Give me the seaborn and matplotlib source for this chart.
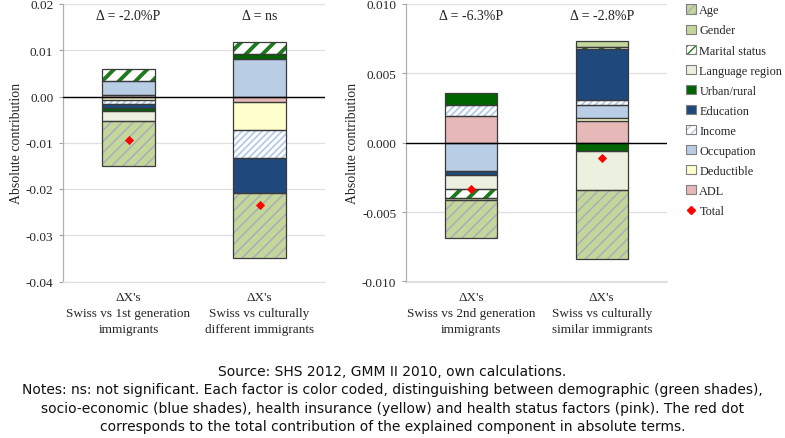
import numpy as np
import pandas as pd
import matplotlib
matplotlib.use("Agg")
import matplotlib.pyplot as plt
from matplotlib.patches import Patch
from matplotlib.lines import Line2D
from matplotlib.ticker import FormatStrFormatter, MultipleLocator
import seaborn as sns

# ---------------- data ----------------
series_names = ["ADL", "Deductible", "Occupation", "Income", "Education",
                "Urban/rural", "Language region", "Marital status", "Gender", "Age"]

left_categories = ["\u0394X's\nSwiss vs 1st generation\nimmigrants",
                   "\u0394X's\nSwiss vs culturally\ndifferent immigrants"]
right_categories = ["\u0394X's\nSwiss vs 2nd generation\nimmigrants",
                    "\u0394X's\nSwiss vs culturally\nsimilar immigrants"]

left_adl = [0.0003, -0.0012]
left_deductible = [-0.0007, -0.0060]
left_occupation = [0.0030, 0.0082]
left_income = [-0.0010, -0.0060]
left_education = [-0.0007, -0.0076]
left_urban = [-0.0008, 0.0009]
left_language = [-0.0022, 0.0]
left_marital = [0.0027, 0.0026]
left_gender = [0.0, 0.0]
left_age = [-0.0097, -0.0142]
left_total = [-0.0093, -0.0235]
left_delta = ["\u0394 = -2.0%P", "\u0394 = ns"]

right_adl = [0.0019, 0.0016]
right_deductible = [0.0, 0.00015]
right_occupation = [-0.0020, 0.0010]
right_income = [0.0008, 0.0003]
right_education = [-0.0003, 0.0037]
right_urban = [0.0009, -0.0006]
right_language = [-0.0010, -0.0028]
right_marital = [-0.0007, 0.00015]
right_gender = [-0.0001, 0.0004]
right_age = [-0.0028, -0.0050]
right_total = [-0.0033, -0.0011]
right_delta = ["\u0394 = -6.3%P", "\u0394 = -2.8%P"]

left_values = [left_adl, left_deductible, left_occupation, left_income, left_education,
               left_urban, left_language, left_marital, left_gender, left_age]
right_values = [right_adl, right_deductible, right_occupation, right_income, right_education,
                right_urban, right_language, right_marital, right_gender, right_age]

legend_order = ["Age", "Gender", "Marital status", "Language region", "Urban/rural",
                "Education", "Income", "Occupation", "Deductible", "ADL"]

# ---------------- styles ----------------
styles = {
    "ADL":             dict(face="#e6b9b8", hatch=None, hcolor=None, hlw=1.0),
    "Deductible":      dict(face="#ffffcc", hatch=None, hcolor=None, hlw=1.0),
    "Occupation":      dict(face="#b9cde5", hatch=None, hcolor=None, hlw=1.0),
    "Income":          dict(face="#ffffff", hatch="/////", hcolor="#b4cbe8", hlw=1.3),
    "Education":       dict(face="#1f497d", hatch=None, hcolor=None, hlw=1.0),
    "Urban/rural":     dict(face="#006400", hatch=None, hcolor=None, hlw=1.0),
    "Language region": dict(face="#ebf1de", hatch=None, hcolor=None, hlw=1.0),
    "Marital status":  dict(face="#ffffff", hatch="//", hcolor="#1e7a1e", hlw=2.8),
    "Gender":          dict(face="#c4d79b", hatch=None, hcolor=None, hlw=1.0),
    "Age":             dict(face="#c4d79b", hatch="///", hcolor="#acacb8", hlw=1.1),
}
legend_hatch = {"Marital status": "////", "Income": "////", "Age": "////"}
EDGE = "#3a3a3a"

sns.set_theme(style="white")
plt.rcParams["font.family"] = ["Liberation Serif", "DejaVu Serif"]
plt.rcParams["axes.unicode_minus"] = False
plt.rcParams["hatch.linewidth"] = 1.0

fig = plt.figure(figsize=(7.85, 4.39), dpi=100)
axL = fig.add_axes([63 / 785, 1 - 282.5 / 439, 262 / 785, 277.5 / 439])
axR = fig.add_axes([406 / 785, 1 - 282.5 / 439, 261 / 785, 277.5 / 439])

BAR_W = 0.4


def draw_panel(ax, categories, values, totals, deltas, ylim, step, fmt):
    x = np.arange(len(categories))
    vals = np.array(values, dtype=float)
    pos_base = np.zeros(len(categories))
    neg_base = np.zeros(len(categories))
    for name, v in zip(series_names, vals):
        bottom = np.where(v >= 0, pos_base, neg_base)
        st = styles[name]
        mask = v != 0
        if mask.any():
            bars = ax.bar(x[mask], v[mask], width=BAR_W, bottom=bottom[mask],
                          color=st["face"], edgecolor=st["hcolor"] if st["hatch"] else st["face"],
                          hatch=st["hatch"], linewidth=0, zorder=3)
            for b in bars:
                if hasattr(b, "set_hatch_linewidth"):
                    b.set_hatch_linewidth(st["hlw"])
            ax.bar(x[mask], v[mask], width=BAR_W, bottom=bottom[mask],
                   facecolor="none", edgecolor=EDGE, linewidth=0.9, zorder=4)
        pos_base = pos_base + np.where(v > 0, v, 0)
        neg_base = neg_base + np.where(v < 0, v, 0)

    df = pd.DataFrame({"x": x, "total": totals})
    sns.scatterplot(data=df, x="x", y="total", ax=ax, marker="D", s=22,
                    color="#ff0000", edgecolor="#ff0000", linewidth=0, zorder=6, legend=False)

    ax.axhline(0, color="black", linewidth=1.0, zorder=5)
    ax.set_ylim(*ylim)
    ax.set_xlim(-0.5, len(categories) - 0.5)
    ax.yaxis.set_major_locator(MultipleLocator(step))
    ax.yaxis.set_major_formatter(FormatStrFormatter(fmt))
    ax.grid(axis="y", color="#e0e0e0", linewidth=0.9, zorder=0)
    ax.grid(axis="x", visible=False)
    ax.set_xticks(x)
    ax.set_xticklabels(categories, fontsize=9.5, linespacing=1.45)
    ax.tick_params(axis="x", length=0, pad=7)
    ax.tick_params(axis="y", length=3, width=0.8, color="#a0a0a0", pad=4, labelsize=9.5,
                   left=True, direction="out")
    for s in ["top", "right"]:
        ax.spines[s].set_visible(False)
    ax.spines["left"].set_color("#b0b0b0")
    ax.spines["left"].set_linewidth(0.9)
    ax.spines["bottom"].set_color("#e0e0e0")
    ax.spines["bottom"].set_linewidth(0.9)
    ax.set_xlabel("")
    ax.set_ylabel("Absolute contribution", fontsize=10, labelpad=2)
    for xi, txt in zip(x, deltas):
        ax.text(xi, 0.957, txt, transform=ax.get_xaxis_transform(), ha="center",
                va="center", fontsize=10, color="#222222")
    ax.set_facecolor("white")


draw_panel(axL, left_categories, left_values, left_total, left_delta,
           (-0.04, 0.02), 0.01, "%.2f")
draw_panel(axR, right_categories, right_values, right_total, right_delta,
           (-0.010, 0.010), 0.005, "%.3f")

# ---------------- legend ----------------
handles = []
for name in legend_order:
    st = styles[name]
    if st["hatch"]:
        h1 = Patch(facecolor=st["face"], edgecolor=st["hcolor"],
                   hatch=legend_hatch.get(name, st["hatch"]), linewidth=0)
        h2 = Patch(facecolor="none", edgecolor="#7f7f7f", linewidth=0.8)
        handles.append((h1, h2))
    else:
        handles.append(Patch(facecolor=st["face"], edgecolor="#7f7f7f", linewidth=0.8))
handles.append(Line2D([], [], marker="D", color="#ff0000", linestyle="none", markersize=4.5))
labels = legend_order + ["Total"]
fig.legend(handles, labels, loc="upper left", bbox_to_anchor=(681 / 785, 1 - 0.5 / 439),
           frameon=False, fontsize=8.8, handlelength=0.8, handleheight=0.8,
           handletextpad=0.3, labelspacing=0.66, borderaxespad=0)

# ---------------- notes ----------------
notes = ("Source: SHS 2012, GMM II 2010, own calculations.\n"
         "Notes: ns: not significant. Each factor is color coded, distinguishing between demographic (green shades),\n"
         "socio-economic (blue shades), health insurance (yellow) and health status factors (pink). The red dot\n"
         "corresponds to the total contribution of the explained component in absolute terms.")
fig.text(0.5, 1 - 399.5 / 439, notes, ha="center", va="center", fontsize=10,
         family=["DejaVu Sans"], linespacing=1.42, color="#111111")

fig.savefig("out.png", dpi=100, facecolor="white")
